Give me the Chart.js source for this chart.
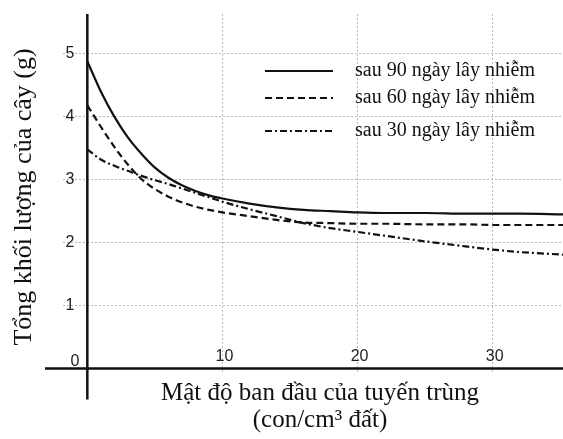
<!DOCTYPE html>
<html lang="vi">
<head>
    <meta charset="UTF-8">
    <script src="https://cdn.jsdelivr.net/npm/chart.js"></script>
    <title>Tổng khối lượng của cây</title>
    <style>
        body { margin: 0; background: #fff; }
    </style>
</head>
<body>
    <canvas id="plantChart" width="563" height="439"></canvas>

    <script>
    // mật độ tuyến trùng (con/cm3 đất)
    const density = [0, 1, 2, 3, 4, 5, 6, 7, 8, 9, 10, 12, 14, 16, 18, 20, 22, 25, 28, 30, 32, 35.2];
    // khối lượng cây (g)
    const after90 = [4.88, 4.40, 4.00, 3.67, 3.41, 3.19, 3.03, 2.91, 2.82, 2.75, 2.70, 2.62, 2.56, 2.52, 2.50, 2.48, 2.47, 2.47, 2.46, 2.46, 2.46, 2.45];
    const after60 = [4.18, 3.84, 3.52, 3.24, 3.01, 2.85, 2.73, 2.64, 2.57, 2.52, 2.48, 2.42, 2.36, 2.32, 2.31, 2.30, 2.30, 2.29, 2.29, 2.28, 2.28, 2.28];
    const after30 = [3.48, 3.32, 3.22, 3.14, 3.06, 2.99, 2.93, 2.86, 2.79, 2.72, 2.65, 2.53, 2.42, 2.31, 2.23, 2.17, 2.11, 2.02, 1.94, 1.89, 1.85, 1.81];
    const seriesLabels = ['sau 90 ngày lây nhiễm', 'sau 60 ngày lây nhiễm', 'sau 30 ngày lây nhiễm'];
    const xTicks = [10, 20, 30];
    const yTicks = [0, 1, 2, 3, 4, 5];

    const dashes = [[], [7, 4], [7, 3, 2, 3]];
    const serif = '"Liberation Serif", "Times New Roman", serif';
    const sans = '"Liberation Sans", Arial, sans-serif';

    function toPoints(ys) {
        return density.map((x, i) => ({x: x, y: ys[i]}));
    }

    const datasets = [after90, after60, after30].map((ys, i) => ({
        label: seriesLabels[i],
        data: toPoints(ys),
        borderColor: '#111',
        borderWidth: 2.2,
        borderDash: dashes[i],
        pointRadius: 0,
        fill: false,
        cubicInterpolationMode: 'monotone'
    }));

    // vẽ trục, nhãn, tiêu đề và chú thích
    const decorations = {
        id: 'decorations',
        afterDraw(chart) {
            const c = chart.ctx;
            const xs = chart.scales.x;
            const ys = chart.scales.y;
            const x0 = xs.getPixelForValue(0);
            const y0 = ys.getPixelForValue(0);
            c.save();

            // axes
            c.strokeStyle = '#111';
            c.lineWidth = 2.5;
            c.setLineDash([]);
            c.beginPath();
            c.moveTo(45, y0);
            c.lineTo(chart.width, y0);
            c.moveTo(x0, ys.getPixelForValue(ys.max));
            c.lineTo(x0, ys.getPixelForValue(-0.49));
            c.stroke();

            // tick labels
            c.fillStyle = '#222';
            c.font = '16px ' + sans;
            c.textAlign = 'center';
            c.textBaseline = 'middle';
            yTicks.forEach(v => {
                const py = ys.getPixelForValue(v) - (v === 0 ? 7 : 0);
                c.fillText(String(v), v === 0 ? 75 : 70, py);
            });
            xTicks.forEach(v => {
                c.fillText(String(v), xs.getPixelForValue(v) + 2, y0 - 12);
            });

            // axis titles
            c.fillStyle = '#111';
            c.font = '25px ' + serif;
            c.fillText('Mật độ ban đầu của tuyến trùng', 320, 393);
            c.fillText('(con/cm³ đất)', 320, 420);
            c.save();
            c.translate(24, 197);
            c.rotate(-Math.PI / 2);
            c.font = '26px ' + serif;
            c.fillText('Tổng khối lượng của cây (g)', 0, 0);
            c.restore();

            // legend
            const rows = [71, 98, 131];
            c.font = '20px ' + serif;
            c.textAlign = 'left';
            chart.data.datasets.forEach((ds, i) => {
                c.strokeStyle = '#111';
                c.lineWidth = 2;
                c.setLineDash(ds.borderDash);
                c.beginPath();
                c.moveTo(265, rows[i]);
                c.lineTo(333, rows[i]);
                c.stroke();
                c.fillText(ds.label, 355, rows[i]);
            });
            c.restore();
        }
    };

    new Chart(document.getElementById('plantChart'), {
        type: 'line',
        data: { datasets: datasets },
        options: {
            responsive: false,
            animation: false,
            devicePixelRatio: 1,
            layout: { padding: { left: 63, right: 0, top: 14, bottom: 66 } },
            plugins: {
                legend: { display: false },
                tooltip: { enabled: false }
            },
            scales: {
                x: {
                    type: 'linear',
                    min: -1.8,
                    max: 35.2,
                    afterBuildTicks: s => { s.ticks = xTicks.map(v => ({value: v})); },
                    ticks: { display: false },
                    grid: { color: '#b8b8b8', lineWidth: 1, drawTicks: false },
                    border: { display: false, dash: [2, 2] }
                },
                y: {
                    min: -0.07,
                    max: 5.63,
                    afterBuildTicks: s => { s.ticks = yTicks.map(v => ({value: v})); },
                    ticks: { display: false },
                    grid: { color: '#b8b8b8', lineWidth: 1, drawTicks: false },
                    border: { display: false, dash: [2, 2] }
                }
            }
        },
        plugins: [decorations]
    });
    </script>
</body>
</html>
